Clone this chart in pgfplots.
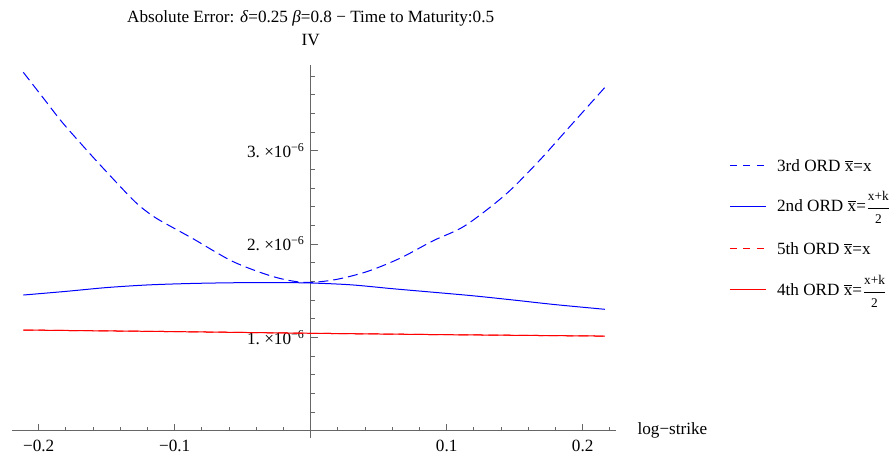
\documentclass[border=0pt]{standalone}
\usepackage{amsmath}
\usepackage{fontspec}
\setmainfont{Liberation Serif}
\usepackage{pgfplots}
\pgfplotsset{compat=1.18}

\pgfplotstableread{
x y
-0.2113 3.840e-6
-0.1950 3.534e-6
-0.1831 3.311e-6
-0.1680 3.060e-6
-0.1525 2.811e-6
-0.1292 2.453e-6
-0.1150 2.290e-6
-0.1000 2.165e-6
-0.0863 2.055e-6
-0.0569 1.810e-6
-0.0275 1.650e-6
-0.0054 1.589e-6
 0.0166 1.614e-6
 0.0412 1.703e-6
 0.0657 1.847e-6
 0.0901 2.035e-6
 0.1134 2.195e-6
 0.1429 2.525e-6
 0.1674 2.882e-6
 0.1894 3.240e-6
 0.2140 3.640e-6
 0.2164 3.680e-6
}\thirdord

\pgfplotstableread{
x y
-0.2113 1.453e-6
-0.1800 1.492e-6
-0.1500 1.533e-6
-0.1200 1.561e-6
-0.0900 1.576e-6
-0.0600 1.584e-6
-0.0300 1.587e-6
 0.0000 1.582e-6
 0.0300 1.562e-6
 0.0600 1.521e-6
 0.0900 1.483e-6
 0.1200 1.444e-6
 0.1500 1.398e-6
 0.1800 1.350e-6
 0.2164 1.300e-6
}\secondord

\pgfplotstableread{
x y
-0.2113 1.078e-6
-0.1000 1.061e-6
 0.0000 1.043e-6
 0.1000 1.028e-6
 0.2164 1.013e-6
}\fifthord

\pgfplotstableread{
x y
-0.2113 1.078e-6
-0.1000 1.061e-6
 0.0000 1.043e-6
 0.1000 1.028e-6
 0.2164 1.013e-6
}\fourthord

\newcommand{\xbar}{$\overline{\mbox{x}}$}
\newcommand{\xkfrac}{$\genfrac{}{}{0.3pt}{0}{\mbox{\fontsize{8}{9}\selectfont x+k}}{\mbox{\fontsize{8}{9}\selectfont 2}}$}
\newcommand{\legtext}[2]{%
  \node[anchor=base west, inner sep=0pt, yshift=-3.6pt] at (axis cs:0.3427,#1) {#2};}

\begin{document}
\begin{tikzpicture}[font=\fontsize{10.3}{12}\selectfont]
\begin{axis}[
  scale only axis,
  width=362.4pt, height=223.8pt,
  axis lines=middle,
  axis line style={-, draw=black!60, line width=0.6pt},
  xmin=-0.2196, xmax=0.2245,
  ymin=-0.079e-6, ymax=3.918e-6,
  clip=false,
  scaled ticks=false,
  xtick={-0.2,-0.1,0.1,0.2},
  xticklabels={−0.2,−0.1,0.1,0.2},
  minor xtick={-0.18,-0.16,-0.14,-0.12,-0.08,-0.06,-0.04,-0.02,0.02,0.04,0.06,0.08,0.12,0.14,0.16,0.18,0.22},
  ytick={1e-6,2e-6,3e-6},
  yticklabels={1.\ ×10\textsuperscript{−6},2.\ ×10\textsuperscript{−6},3.\ ×10\textsuperscript{−6}},
  minor ytick={0.2e-6,0.4e-6,0.6e-6,0.8e-6,1.2e-6,1.4e-6,1.6e-6,1.8e-6,2.2e-6,2.4e-6,2.6e-6,2.8e-6,3.2e-6,3.4e-6,3.6e-6,3.8e-6},
  tick align=inside,
  major tick length=4.2pt,
  minor tick length=2.4pt,
  tick style={draw=black!60, line width=0.5pt},
  xticklabel style={yshift=-2.4pt},
]
\addplot[blue, line width=0.6pt, dash pattern=on 6pt off 3pt, smooth] table {\thirdord};
\addplot[blue, line width=0.6pt, smooth] table {\secondord};
\addplot[red, line width=0.6pt, dash pattern=on 6pt off 3pt] table {\fifthord};
\addplot[red, line width=0.6pt] table {\fourthord};

% legend keys: stroke colour set directly with draw=
\addplot[draw=blue, line width=0.6pt, dash pattern=on 4.2pt off 3.9pt, forget plot] coordinates {(0.3083,2.839e-6) (0.3348,2.839e-6)};
\addplot[draw=blue, line width=0.6pt, forget plot] coordinates {(0.3083,2.407e-6) (0.3348,2.407e-6)};
\addplot[draw=red, line width=0.6pt, dash pattern=on 4.2pt off 3.9pt, forget plot] coordinates {(0.3083,1.954e-6) (0.3348,1.954e-6)};
\addplot[draw=red, line width=0.6pt, forget plot] coordinates {(0.3083,1.507e-6) (0.3348,1.507e-6)};

\legtext{2.839e-6}{3rd ORD \xbar=x}
\legtext{2.407e-6}{2nd ORD \xbar=\xkfrac}
\legtext{1.954e-6}{5th ORD \xbar=x}
\legtext{1.507e-6}{4th ORD \xbar=\xkfrac}

\coordinate (ll) at (rel axis cs:0,0);
\coordinate (ur) at (rel axis cs:1,1);
\node[anchor=west] at ({rel axis cs:1,0} |- {axis cs:0,0}) [xshift=9.4pt] {log−strike};
\node at ({axis cs:0,0} |- {rel axis cs:0,1}) [yshift=15pt] {IV};
\node at ({axis cs:0,0} |- {rel axis cs:0,1}) [yshift=28.2pt]
  {Absolute Error: \textit{δ}=0.25 \textit{β}=0.8 − Time to Maturity:0.5};
\end{axis}
\pgfresetboundingbox
\path ([shift={(-7.2pt,-12.6pt)}]ll) rectangle ([shift={(166.2pt,39pt)}]ur);
\end{tikzpicture}
\end{document}
